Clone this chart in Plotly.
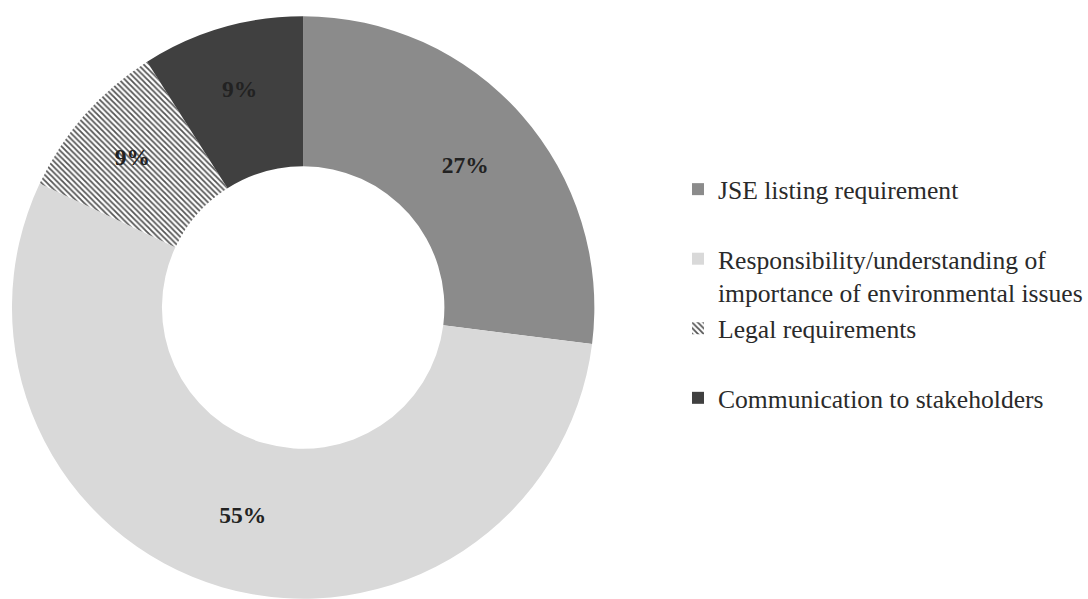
import plotly.graph_objects as go

labels = [
    "JSE listing requirement<br> ",
    "Responsibility/understanding of<br>importance of environmental issues",
    "Legal requirements<br> ",
    "Communication to stakeholders",
]
values = [27, 55, 9, 9]
colors = ["#8b8b8b", "#d9d9d9", "#d0d0d0", "#404040"]
patterns = ["", "", "\\", ""]

W, H = 1088, 599

fig = go.Figure()
fig.add_trace(go.Pie(
    labels=labels,
    values=values,
    sort=False,
    direction="clockwise",
    rotation=0,
    hole=0.485,
    marker=dict(
        colors=colors,
        line=dict(width=0),
        pattern=dict(shape=patterns, fgcolor="#555555", size=4, solidity=0.45),
    ),
    texttemplate="%{percent:.0%}",
    textposition="inside",
    insidetextorientation="horizontal",
    textfont=dict(family="Liberation Serif", size=23.5, color="#222222", weight="bold"),
    domain=dict(x=[12 / W, 596 / W], y=[0.0, 583 / H]),
    showlegend=True,
))

fig.update_layout(
    width=W,
    height=H,
    margin=dict(l=0, r=0, t=0, b=0),
    paper_bgcolor="white",
    plot_bgcolor="white",
    showlegend=True,
    legend=dict(
        x=680 / W,
        xanchor="left",
        y=1 - 166 / H,
        yanchor="top",
        valign="top",
        font=dict(family="Liberation Serif", size=25.6, color="#2a2a2a"),
        bgcolor="rgba(0,0,0,0)",
        tracegroupgap=0,
    ),
)

fig.write_html("out.html")
